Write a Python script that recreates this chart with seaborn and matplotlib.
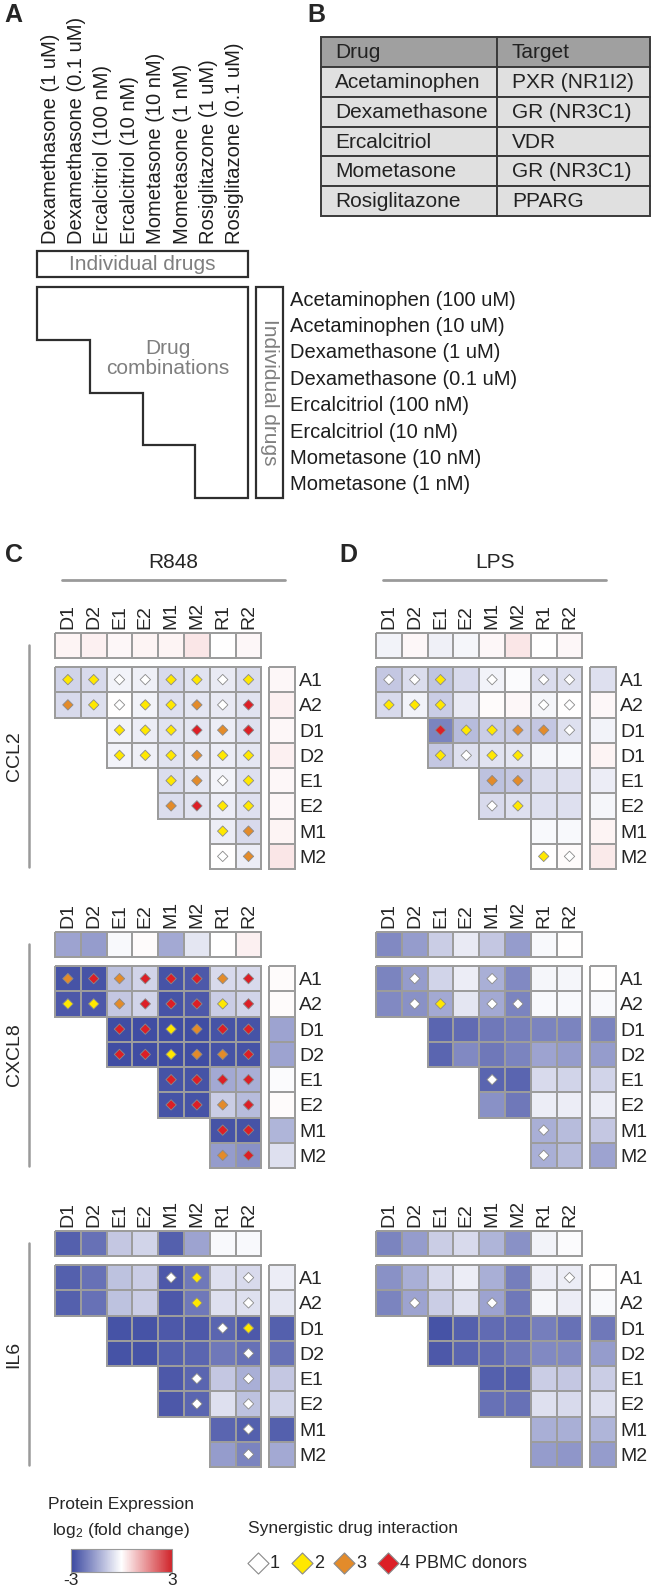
import numpy as np
import pandas as pd
import seaborn as sns
import matplotlib.pyplot as plt
from matplotlib.colors import LinearSegmentedColormap, Normalize, to_rgba
from matplotlib.patches import Rectangle, Polygon
from matplotlib.cm import ScalarMappable

n = np.nan

# ---- panel A / B text ----
A_COL_LABELS = ["Dexamethasone (1 uM)", "Dexamethasone (0.1 uM)", "Ercalcitriol (100 nM)",
                "Ercalcitriol (10 nM)", "Mometasone (10 nM)", "Mometasone (1 nM)",
                "Rosiglitazone (1 uM)", "Rosiglitazone (0.1 uM)"]
A_ROW_LABELS = ["Acetaminophen (100 uM)", "Acetaminophen (10 uM)", "Dexamethasone (1 uM)",
                "Dexamethasone (0.1 uM)", "Ercalcitriol (100 nM)", "Ercalcitriol (10 nM)",
                "Mometasone (10 nM)", "Mometasone (1 nM)"]
TABLE_DRUGS = ["Acetaminophen", "Dexamethasone", "Ercalcitriol", "Mometasone", "Rosiglitazone"]
TABLE_TARGETS = ["PXR (NR1I2)", "GR (NR3C1)", "VDR", "GR (NR3C1)", "PPARG"]

# ---- heatmap labels ----
COLS = ["D1", "D2", "E1", "E2", "M1", "M2", "R1", "R2"]
ROWS = ["A1", "A2", "D1", "D2", "E1", "E2", "M1", "M2"]
ROWS_CCL2_LPS = ["A1", "A2", "D1", "D1", "E1", "E2", "M1", "M2"]
GENES = ["CCL2", "CXCL8", "IL6"]

# ---- CCL2 ----
CCL2_R848_TOP = [0.15, 0.2, 0.1, 0.15, 0.15, 0.35, 0.0, 0.1]
CCL2_R848_GRID = [
    [-0.7, -0.6, -0.2, -0.25, -0.6, -0.45, -0.35, -0.55],
    [-0.6, -0.5, 0.0, -0.2, -0.5, -0.4, -0.35, -0.45],
    [n, n, -0.2, -0.3, -0.45, -0.4, -0.3, -0.5],
    [n, n, -0.2, -0.25, -0.45, -0.35, -0.3, -0.4],
    [n, n, n, n, -0.55, -0.4, -0.2, -0.5],
    [n, n, n, n, -0.55, -0.45, -0.3, -0.5],
    [n, n, n, n, n, n, -0.3, -0.6],
    [n, n, n, n, n, n, 0.0, -0.3],
]
CCL2_R848_SIDE = [0.1, 0.2, 0.1, 0.2, 0.1, 0.1, 0.15, 0.35]
CCL2_R848_SYN = [
    [2, 2, 1, 1, 2, 2, 1, 2],
    [3, 2, 1, 2, 2, 3, 1, 4],
    [0, 0, 2, 2, 2, 4, 3, 4],
    [0, 0, 2, 2, 2, 3, 2, 2],
    [0, 0, 0, 0, 2, 3, 1, 2],
    [0, 0, 0, 0, 3, 4, 2, 2],
    [0, 0, 0, 0, 0, 0, 2, 3],
    [0, 0, 0, 0, 0, 0, 1, 3],
]

CCL2_LPS_TOP = [-0.2, 0.1, -0.25, -0.15, 0.1, 0.35, 0.0, 0.1]
CCL2_LPS_GRID = [
    [-0.9, -0.55, -0.95, -0.6, -0.2, -0.05, -0.55, -0.5],
    [-0.6, -0.2, -0.8, -0.35, 0.05, 0.1, -0.15, 0.0],
    [n, n, -2.0, -1.1, -0.8, -0.8, -0.9, -0.5],
    [n, n, -0.9, -0.5, -0.45, -0.4, -0.15, -0.1],
    [n, n, n, n, -1.0, -0.9, -0.55, -0.5],
    [n, n, n, n, -0.6, -0.5, -0.5, -0.5],
    [n, n, n, n, n, n, -0.1, -0.1],
    [n, n, n, n, n, n, 0.0, 0.05],
]
CCL2_LPS_SIDE = [-0.5, 0.1, -0.2, 0.15, -0.3, -0.15, 0.15, 0.3]
CCL2_LPS_SYN = [
    [1, 1, 2, 0, 1, 0, 1, 1],
    [2, 2, 2, 0, 0, 0, 1, 1],
    [0, 0, 4, 2, 2, 3, 3, 1],
    [0, 0, 2, 1, 2, 2, 0, 0],
    [0, 0, 0, 0, 3, 3, 0, 0],
    [0, 0, 0, 0, 1, 2, 0, 0],
    [0, 0, 0, 0, 0, 0, 0, 0],
    [0, 0, 0, 0, 0, 0, 2, 1],
]

# ---- CXCL8 ----
CXCL8_R848_TOP = [-1.5, -1.6, -0.1, 0.05, -1.4, -0.4, 0.0, 0.2]
CXCL8_R848_GRID = [
    [-2.8, -2.8, -1.0, -0.7, -2.8, -2.7, -0.6, -0.6],
    [-2.7, -2.7, -0.9, -0.7, -2.8, -2.7, -0.8, -0.7],
    [n, n, -2.9, -2.9, -2.9, -2.9, -2.8, -2.8],
    [n, n, -2.9, -2.9, -2.9, -2.9, -2.8, -2.8],
    [n, n, n, n, -2.8, -2.8, -1.4, -1.3],
    [n, n, n, n, -2.8, -2.8, -0.8, -1.1],
    [n, n, n, n, n, n, -2.8, -2.8],
    [n, n, n, n, n, n, -1.6, -1.8],
]
CXCL8_R848_SIDE = [0.05, 0.05, -1.5, -1.5, -0.05, 0.05, -1.2, -0.5]
CXCL8_R848_SYN = [
    [3, 4, 3, 4, 4, 4, 3, 4],
    [2, 2, 3, 4, 4, 4, 2, 4],
    [0, 0, 4, 4, 2, 3, 4, 4],
    [0, 0, 4, 4, 2, 3, 3, 4],
    [0, 0, 0, 0, 4, 4, 4, 4],
    [0, 0, 0, 0, 4, 4, 3, 4],
    [0, 0, 0, 0, 0, 0, 4, 4],
    [0, 0, 0, 0, 0, 0, 3, 4],
]

CXCL8_LPS_TOP = [-1.9, -1.6, -0.8, -0.35, -0.9, -1.6, -0.1, 0.0]
CXCL8_LPS_GRID = [
    [-2.0, -1.6, -0.7, -0.3, -1.3, -1.9, -0.15, -0.15],
    [-1.9, -1.8, -1.4, -0.4, -1.4, -2.0, -0.1, -0.1],
    [n, n, -2.5, -2.4, -2.2, -2.1, -2.0, -2.0],
    [n, n, -2.5, -1.9, -2.2, -2.0, -1.5, -1.6],
    [n, n, n, n, -2.5, -2.5, -0.6, -0.7],
    [n, n, n, n, -1.8, -2.2, -0.3, -0.3],
    [n, n, n, n, n, n, -1.3, -1.1],
    [n, n, n, n, n, n, -1.3, -1.1],
]
CXCL8_LPS_SIDE = [0.0, -0.1, -2.0, -1.6, -0.7, -0.3, -0.9, -1.5]
CXCL8_LPS_SYN = [
    [0, 1, 0, 0, 1, 0, 0, 0],
    [0, 1, 2, 0, 1, 1, 0, 0],
    [0, 0, 0, 0, 0, 0, 0, 0],
    [0, 0, 0, 0, 0, 0, 0, 0],
    [0, 0, 0, 0, 1, 0, 0, 0],
    [0, 0, 0, 0, 0, 0, 0, 0],
    [0, 0, 0, 0, 0, 0, 1, 0],
    [0, 0, 0, 0, 0, 0, 1, 0],
]

# ---- IL6 ----
IL6_R848_TOP = [-2.6, -2.3, -0.9, -0.7, -2.6, -1.5, -0.1, -0.1]
IL6_R848_GRID = [
    [-2.6, -2.3, -1.0, -0.8, -2.7, -2.2, -0.5, -0.6],
    [-2.6, -2.3, -1.0, -0.8, -2.7, -2.2, -0.5, -0.5],
    [n, n, -2.8, -2.8, -2.7, -2.7, -2.5, -2.7],
    [n, n, -2.8, -2.8, -2.6, -2.5, -2.2, -2.3],
    [n, n, n, n, -2.7, -2.5, -0.9, -1.3],
    [n, n, n, n, -2.7, -2.5, -0.5, -1.0],
    [n, n, n, n, n, n, -2.5, -2.6],
    [n, n, n, n, n, n, -1.6, -2.0],
]
IL6_R848_SIDE = [-0.3, -0.4, -2.6, -2.3, -0.9, -0.7, -2.6, -1.4]
IL6_R848_SYN = [
    [0, 0, 0, 0, 1, 2, 0, 1],
    [0, 0, 0, 0, 0, 2, 0, 1],
    [0, 0, 0, 0, 0, 0, 1, 2],
    [0, 0, 0, 0, 0, 0, 0, 1],
    [0, 0, 0, 0, 0, 1, 0, 1],
    [0, 0, 0, 0, 0, 1, 0, 1],
    [0, 0, 0, 0, 0, 0, 0, 1],
    [0, 0, 0, 0, 0, 0, 0, 1],
]

IL6_LPS_TOP = [-2.0, -1.6, -0.8, -0.6, -1.2, -1.8, -0.2, -0.05]
IL6_LPS_GRID = [
    [-1.8, -1.3, -0.6, -0.3, -1.3, -2.1, -0.3, -0.3],
    [-2.0, -1.5, -0.8, -0.5, -1.5, -2.2, -0.15, -0.3],
    [n, n, -2.8, -2.6, -2.4, -2.4, -2.1, -2.3],
    [n, n, -2.7, -2.5, -2.4, -2.2, -1.9, -1.9],
    [n, n, n, n, -2.6, -2.6, -0.8, -0.9],
    [n, n, n, n, -2.3, -2.3, -0.5, -0.6],
    [n, n, n, n, n, n, -1.3, -1.3],
    [n, n, n, n, n, n, -1.6, -1.7],
]
IL6_LPS_SIDE = [0.0, -0.1, -2.2, -1.6, -0.8, -0.5, -1.2, -1.6]
IL6_LPS_SYN = [
    [0, 0, 0, 0, 0, 0, 0, 1],
    [0, 1, 0, 0, 1, 0, 0, 0],
    [0, 0, 0, 0, 0, 0, 0, 0],
    [0, 0, 0, 0, 0, 0, 0, 0],
    [0, 0, 0, 0, 0, 0, 0, 0],
    [0, 0, 0, 0, 0, 0, 0, 0],
    [0, 0, 0, 0, 0, 0, 0, 0],
    [0, 0, 0, 0, 0, 0, 0, 0],
]

SYN_LEVELS = [1, 2, 3, 4]
SYN_LABELS = ["1", "2", "3", "4 PBMC donors"]

# ---- style ----
W, H = 653, 1593
CMAP = LinearSegmentedColormap.from_list("bwr_pe", ["#3a47a0", "#ffffff", "#d0252b"])
SYN_COLORS = {1: "#ffffff", 2: "#ffe800", 3: "#e38b2a", 4: "#dc1f26"}
GRID_GRAY = "#9c9c9c"
DARK = "#2e2e2e"
MID_GRAY = "#7f7f7f"

sns.set_style("white")
plt.rcParams["font.family"] = ["Liberation Sans", "DejaVu Sans"]
plt.rcParams["mathtext.fontset"] = "custom"
plt.rcParams["mathtext.rm"] = "Liberation Sans"
plt.rcParams["mathtext.it"] = "Liberation Sans"
plt.rcParams["axes.unicode_minus"] = False

fig = plt.figure(figsize=(W / 100, H / 100), dpi=100)


def add_ax(x, y, w, h):
    return fig.add_axes([x / W, 1 - (y + h) / H, w / W, h / H])


bg = add_ax(0, 0, W, H)
bg.set_xlim(0, W)
bg.set_ylim(H, 0)
bg.axis("off")

# panel letters
for letter, (lx, ly) in zip("ABCD", [(4, 3), (307, 3), (5, 543), (339, 543)]):
    bg.text(lx, ly, letter, fontsize=18, fontweight="bold", ha="left", va="top")

# ---- panel A: layout schematic ----
unit = 26.4
ax_a = add_ax(37, 287, 8 * unit, 8 * unit)
ax_a.set_xlim(0, 8)
ax_a.set_ylim(8, 0)
ax_a.axis("off")
stairs = [(0, 0), (8, 0), (8, 8), (6, 8), (6, 6), (4, 6), (4, 4), (2, 4), (2, 2), (0, 2)]
ax_a.add_patch(Polygon(stairs, closed=True, fill=False, ec=DARK, lw=1.6, clip_on=False))
ax_a.add_patch(Rectangle((0, -1.36), 8, 0.98, fill=False, ec=DARK, lw=1.6, clip_on=False))
ax_a.add_patch(Rectangle((8.3, 0), 1.02, 8, fill=False, ec=DARK, lw=1.6, clip_on=False))
ax_a.text(4, -0.87, "Individual drugs", ha="center", va="center", fontsize=15, color=MID_GRAY)
ax_a.text(8.81, 4, "Individual drugs", ha="center", va="center", fontsize=15,
          color=MID_GRAY, rotation=-90)
ax_a.text(4.96, 2.7, "Drug\ncombinations", ha="center", va="center", fontsize=15,
          color=MID_GRAY, linespacing=1.1)
for i, lab in enumerate(A_COL_LABELS):
    ax_a.text(i + 0.5, -1.62, lab, rotation=90, ha="center", va="bottom", fontsize=14.5,
              color="#1e1e1e", clip_on=False)
for j, lab in enumerate(A_ROW_LABELS):
    ax_a.text(9.58, j + 0.5, lab, ha="left", va="center", fontsize=14.5,
              color="#1e1e1e", clip_on=False)

# ---- panel B: table ----
ax_b = add_ax(321, 37, 329, 179)
ax_b.set_xlim(0, 1)
ax_b.set_ylim(6, 0)
ax_b.axis("off")
split = 0.535
table_rows = [("Drug", "Target")] + list(zip(TABLE_DRUGS, TABLE_TARGETS))
for i, (drug, target) in enumerate(table_rows):
    fc = "#a0a0a0" if i == 0 else "#e0e0e0"
    ax_b.add_patch(Rectangle((0, i), split, 1, fc=fc, ec="#3a3a3a", lw=1.4, clip_on=False))
    ax_b.add_patch(Rectangle((split, i), 1 - split, 1, fc=fc, ec="#3a3a3a", lw=1.4, clip_on=False))
    ax_b.text(0.043, i + 0.52, drug, ha="left", va="center", fontsize=15, color="#222222")
    ax_b.text(0.58, i + 0.52, target, ha="left", va="center", fontsize=15, color="#222222")

# ---- panels C / D: heatmaps ----
CW, CH = 25.8, 25.25
BLOCK_Y = [633, 932, 1231]
PANEL_X = {"R848": 55, "LPS": 376}

hm_kw = dict(cmap=CMAP, vmin=-3, vmax=3, cbar=False, linewidths=1.1, linecolor=GRID_GRAY)


def draw_block(x0, y0, top, grid, side, syn, rows):
    ax_top = add_ax(x0, y0, 8 * CW, CH)
    sns.heatmap(pd.DataFrame([top], columns=COLS), ax=ax_top, xticklabels=COLS,
                yticklabels=False, **hm_kw)
    ax_top.xaxis.tick_top()
    ax_top.set_xticklabels(COLS, rotation=90, fontsize=14)
    ax_top.tick_params(length=0, pad=3)

    main_y = y0 + 34
    ax_main = add_ax(x0, main_y, 8 * CW, 8 * CH)
    grid_df = pd.DataFrame(grid, index=rows, columns=COLS)
    missing = grid_df.isna().to_numpy()
    sns.heatmap(grid_df, mask=missing, ax=ax_main, xticklabels=False,
                yticklabels=False, **hm_kw)
    # no cell borders for the empty (masked) part of the triangle
    edge = np.array([to_rgba(GRID_GRAY)] * missing.size)
    edge[missing.ravel(), 3] = 0.0
    ax_main.collections[0].set_edgecolor(edge)

    syn_arr = np.array(syn)
    r_idx, c_idx = np.nonzero(syn_arr)
    pts = pd.DataFrame({"x": c_idx + 0.5, "y": r_idx + 0.5, "level": syn_arr[r_idx, c_idx]})
    if len(pts):
        sns.scatterplot(data=pts, x="x", y="y", hue="level", palette=SYN_COLORS, marker="D",
                        s=28, edgecolor="#8a8a8a", linewidth=0.6, legend=False, ax=ax_main)
    ax_main.set_xlim(0, 8)
    ax_main.set_ylim(8, 0)

    ax_side = add_ax(x0 + 214, main_y, CW, 8 * CH)
    sns.heatmap(pd.DataFrame({"v": side}, index=range(8)), ax=ax_side, xticklabels=False,
                yticklabels=rows, **hm_kw)
    ax_side.yaxis.tick_right()
    ax_side.set_yticklabels(rows, rotation=0, fontsize=14)
    ax_side.tick_params(length=0, pad=3)
    for ax in (ax_top, ax_main, ax_side):
        ax.set_xlabel("")
        ax.set_ylabel("")
        for coll in ax.collections:
            coll.set_clip_on(False)


blocks = [
    (CCL2_R848_TOP, CCL2_R848_GRID, CCL2_R848_SIDE, CCL2_R848_SYN,
     CCL2_LPS_TOP, CCL2_LPS_GRID, CCL2_LPS_SIDE, CCL2_LPS_SYN, ROWS_CCL2_LPS),
    (CXCL8_R848_TOP, CXCL8_R848_GRID, CXCL8_R848_SIDE, CXCL8_R848_SYN,
     CXCL8_LPS_TOP, CXCL8_LPS_GRID, CXCL8_LPS_SIDE, CXCL8_LPS_SYN, ROWS),
    (IL6_R848_TOP, IL6_R848_GRID, IL6_R848_SIDE, IL6_R848_SYN,
     IL6_LPS_TOP, IL6_LPS_GRID, IL6_LPS_SIDE, IL6_LPS_SYN, ROWS),
]

for gene, y0, b in zip(GENES, BLOCK_Y, blocks):
    draw_block(PANEL_X["R848"], y0, b[0], b[1], b[2], b[3], ROWS)
    draw_block(PANEL_X["LPS"], y0, b[4], b[5], b[6], b[7], b[8])
    bg.plot([29, 29], [y0 + 12, y0 + 234], color="#9a9a9a", lw=1.8)
    bg.text(14, y0 + 123, gene, rotation=90, ha="center", va="center", fontsize=14)

# condition headers
for cond, cx, (lx0, lx1) in [("R848", 173, (62, 285)), ("LPS", 495, (383, 606))]:
    bg.text(cx, 563, cond, ha="center", va="center", fontsize=15)
    bg.plot([lx0, lx1], [580, 580], color="#9a9a9a", lw=2)

# ---- legends ----
bg.text(121, 1505, "Protein Expression", ha="center", va="center", fontsize=12.5)
bg.text(121, 1530, r"log$_\mathregular{2}$ (fold change)", ha="center", va="center",
        fontsize=12.5)
cax = add_ax(71, 1549, 101, 23)
cb = fig.colorbar(ScalarMappable(norm=Normalize(-3, 3), cmap=CMAP), cax=cax,
                  orientation="horizontal", ticks=[-3, 3])
cb.outline.set_edgecolor("#9a9a9a")
cb.ax.tick_params(length=0, labelsize=12.5, pad=1)

bg.text(248, 1528, "Synergistic drug interaction", ha="left", va="center", fontsize=12.5)
leg_x = [258, 302, 344, 388]
for lvl, lab, mx in zip(SYN_LEVELS, SYN_LABELS, leg_x):
    bg.scatter([mx], [1563], marker="D", s=115, color=SYN_COLORS[lvl], edgecolor="#8a8a8a",
               linewidth=0.8)
    bg.text(mx + 12, 1563, lab, ha="left", va="center", fontsize=13)

fig.savefig("out.png", dpi=100, facecolor="white")
